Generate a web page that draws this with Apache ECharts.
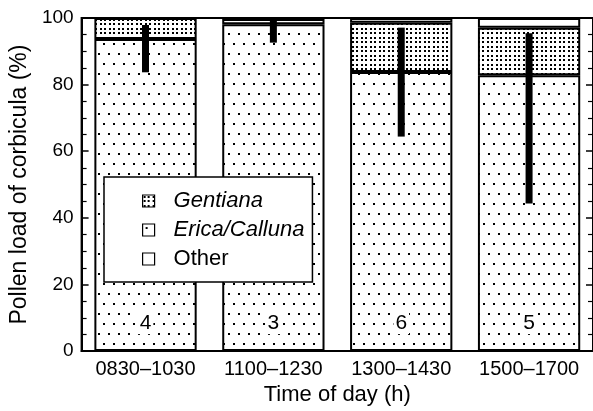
<!DOCTYPE html>
<html>
<head>
<meta charset="utf-8">
<script src="https://cdn.jsdelivr.net/npm/echarts/dist/echarts.min.js"></script>
<style>html,body{margin:0;padding:0;background:#fff;}#c{width:593px;height:411px;}</style>
</head>
<body>
<div id="c"></div>
<script>
// ---- data ----
var categories = ['0830\u20131030', '1100\u20131230', '1300\u20131430', '1500\u20131700'];
var ericaCalluna = [93.7, 98.1, 83.8, 82.8];
var gentiana = [6.3, 1.6, 14.8, 14.3];
var other = [0, 0.3, 1.4, 2.9];
var rangeLow = [83.7, 92.6, 64.4, 44.3];
var rangeHigh = [97.9, 99.1, 97.1, 95.4];
var sampleCounts = ['4', '3', '6', '5'];
var yTicks = [0, 20, 40, 60, 80, 100];

// ---- patterns ----
function makePattern(w, h, dots, size) {
  var c = document.createElement('canvas');
  c.width = w; c.height = h;
  var g = c.getContext('2d');
  g.fillStyle = '#fff'; g.fillRect(0, 0, w, h);
  g.fillStyle = '#000';
  dots.forEach(function (d) { g.fillRect(d[0], d[1], size, size); });
  return { image: c, repeat: 'repeat' };
}
var sparse = makePattern(10, 20, [[3, 3], [8, 13]], 2);
var dense = makePattern(9, 9, [[1, 1], [5, 1], [1, 5], [5, 5]], 2);

var FONT = "'Liberation Sans', Arial, Helvetica, sans-serif";
var chart = echarts.init(document.getElementById('c'), null, { renderer: 'canvas' });

var errData = categories.map(function (c, i) { return [i, rangeLow[i], rangeHigh[i]]; });

chart.setOption({
  animation: false,
  backgroundColor: '#fff',
  textStyle: { fontFamily: FONT, color: '#000' },
  grid: { left: 81, right: 0, top: 18, bottom: 57, show: true, borderColor: '#000', borderWidth: 2 },
  legend: {
    data: ['Gentiana', 'Erica/Calluna', 'Other'],
    orient: 'vertical',
    left: 104, top: 177,
    padding: [13, 8, 12, 38],
    itemGap: 7,
    itemWidth: 12, itemHeight: 12,
    icon: 'rect',
    backgroundColor: '#fff',
    borderColor: '#000', borderWidth: 1.5,
    selectedMode: false,
    itemStyle: { borderColor: '#000', borderWidth: 1.2 },
    formatter: function (n) { return n === 'Other' ? n : '{i|' + n + '}'; },
    textStyle: {
      fontFamily: FONT, fontSize: 22, color: '#000', padding: [0, 0, 0, 14],
      rich: { i: { fontStyle: 'italic', fontFamily: FONT, fontSize: 22, color: '#000' } }
    }
  },
  xAxis: {
    type: 'category',
    data: categories,
    axisLine: { lineStyle: { color: '#000', width: 2 } },
    axisTick: { show: false },
    axisLabel: { fontSize: 20, color: '#000', margin: 8, interval: 0, fontFamily: FONT },
    name: 'Time of day (h)',
    nameLocation: 'middle',
    nameGap: 28,
    nameTextStyle: { fontSize: 22, color: '#000', fontFamily: FONT }
  },
  yAxis: [{
    type: 'value', min: 0, max: 100, interval: 20,
    axisLine: { show: true, lineStyle: { color: '#000', width: 2 } },
    axisTick: { show: true, inside: true, length: 7, lineStyle: { color: '#000', width: 1.5 } },
    minorTick: { show: true, splitNumber: 4, length: 5, lineStyle: { color: '#000', width: 1.2 } },
    splitLine: { show: false },
    axisLabel: { fontSize: 19, color: '#000', margin: 8, fontFamily: FONT },
    name: 'Pollen load of corbicula (%)',
    nameLocation: 'middle',
    nameGap: 47,
    nameTextStyle: { fontSize: 23, color: '#000', fontFamily: FONT }
  }, {
    type: 'value', min: 0, max: 100, interval: 20, position: 'right',
    axisLine: { show: true, lineStyle: { color: '#000', width: 2 } },
    axisTick: { show: true, inside: true, length: 7, lineStyle: { color: '#000', width: 1.5 } },
    minorTick: { show: true, splitNumber: 4, length: 5, lineStyle: { color: '#000', width: 1.2 } },
    splitLine: { show: false },
    axisLabel: { show: false }
  }],
  series: [{
    name: 'Erica/Calluna', type: 'bar', stack: 'a', data: ericaCalluna,
    barCategoryGap: '20%',
    itemStyle: { color: sparse, borderColor: '#000', borderWidth: 2 },
    label: {
      show: true, position: 'insideBottom', distance: 17,
      formatter: function (p) { return sampleCounts[p.dataIndex]; },
      fontSize: 21, color: '#000', fontFamily: FONT, textBorderWidth: 0,
      backgroundColor: '#fff', padding: [1, 2, 0, 2]
    }
  }, {
    name: 'Gentiana', type: 'bar', stack: 'a', data: gentiana,
    barCategoryGap: '20%',
    itemStyle: { color: dense, borderColor: '#000', borderWidth: 2 }
  }, {
    name: 'Other', type: 'bar', stack: 'a', data: other,
    barCategoryGap: '20%',
    itemStyle: { color: '#fff', borderColor: '#000', borderWidth: 2 }
  }, {
    name: 'range', type: 'custom', z: 5,
    data: errData,
    encode: { x: 0, y: [1, 2] },
    renderItem: function (params, api) {
      var lo = api.coord([api.value(0), api.value(1)]);
      var hi = api.coord([api.value(0), api.value(2)]);
      return { type: 'rect', shape: { x: lo[0] - 3.5, y: hi[1], width: 7, height: lo[1] - hi[1] }, style: { fill: '#000' } };
    }
  }]
});
</script>
</body>
</html>
